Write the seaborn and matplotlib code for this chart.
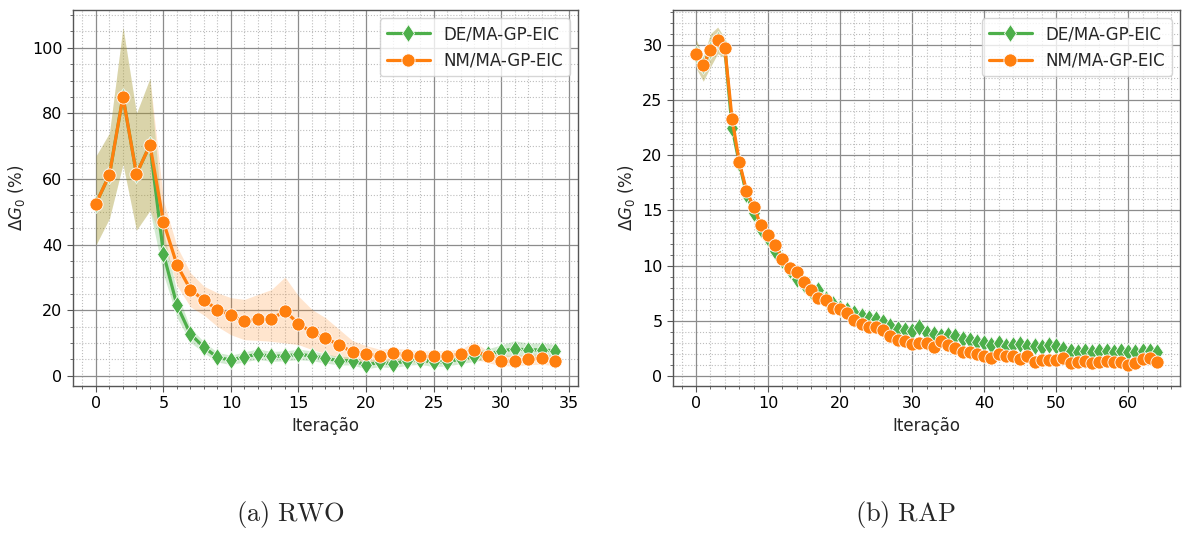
import numpy as np
import pandas as pd
import matplotlib
matplotlib.use("Agg")
import matplotlib.pyplot as plt
import seaborn as sns

# ---------------- data: RWO ----------------
rwo_iter = list(range(35))
rwo_nm = [52.5, 61.3, 85.1, 61.5, 70.4, 46.9, 33.8, 26.3, 23.0, 20.2, 18.4, 16.7,
          17.2, 17.4, 19.7, 15.9, 13.2, 11.4, 9.5, 7.2, 6.6, 6.1, 6.9, 6.4, 5.9,
          5.9, 6.1, 6.6, 7.9, 5.9, 4.6, 4.4, 5.1, 5.3, 4.6]
rwo_nm_lo = [39.9, 48.0, 64.5, 44.4, 50.4, 40.5, 27.5, 21.0, 18.5, 15.0, 12.5, 11.0,
             10.8, 10.5, 10.0, 9.5, 8.0, 6.8, 5.5, 4.5, 4.2, 4.0, 4.3, 4.2, 4.0,
             4.0, 4.1, 4.5, 5.2, 4.0, 3.1, 3.0, 3.4, 3.5, 3.1]
rwo_nm_hi = [67.0, 74.0, 106.3, 80.0, 90.7, 53.5, 39.4, 31.4, 27.3, 25.3, 23.8, 23.3,
             24.8, 26.3, 30.1, 24.3, 20.2, 17.7, 14.2, 10.7, 9.2, 8.1, 8.4, 8.1, 7.6,
             7.6, 7.8, 8.0, 10.4, 7.6, 6.4, 6.2, 6.6, 6.8, 6.2]
rwo_de = [52.5, 61.3, 85.1, 61.5, 70.4, 37.2, 21.5, 12.7, 8.7, 5.6, 4.8, 5.8,
          6.6, 5.9, 6.1, 6.5, 6.1, 5.3, 4.6, 4.6, 3.3, 4.1, 3.6, 4.6, 4.9,
          4.1, 4.3, 5.1, 5.9, 6.6, 7.5, 8.2, 7.9, 7.9, 7.6]
rwo_de_lo = [39.9, 48.0, 64.5, 44.4, 50.4, 31.0, 17.8, 10.2, 7.0, 4.2, 3.4, 4.3,
             5.0, 4.4, 4.6, 4.9, 4.6, 3.9, 3.3, 3.3, 2.1, 2.8, 2.4, 3.2, 3.5,
             2.8, 3.0, 3.7, 4.4, 5.0, 5.6, 6.1, 5.9, 5.9, 5.6]
rwo_de_hi = [67.0, 74.0, 106.3, 80.0, 90.7, 44.0, 25.4, 14.5, 10.4, 7.1, 6.3, 7.3,
             8.2, 7.4, 7.6, 8.1, 7.6, 6.7, 5.9, 5.9, 4.6, 5.4, 4.9, 6.0, 6.3,
             5.4, 5.6, 6.5, 7.4, 8.2, 9.4, 10.7, 10.0, 10.0, 9.6]

# ---------------- data: RAP ----------------
rap_iter = list(range(65))
rap_nm = [29.2, 28.2, 29.5, 30.4, 29.7, 23.3, 19.4, 16.8, 15.3, 13.7, 12.8, 11.9,
          10.6, 9.8, 9.4, 8.5, 7.8, 7.1, 6.9, 6.2, 6.05, 5.75, 5.1, 4.7, 4.4,
          4.45, 4.2, 3.65, 3.3, 3.2, 2.95, 3.0, 3.0, 2.6, 3.2, 2.85, 2.5, 2.15,
          2.15, 2.0, 1.85, 1.6, 2.0, 1.8, 1.85, 1.55, 1.85, 1.3, 1.45, 1.5, 1.5,
          1.6, 1.2, 1.3, 1.4, 1.15, 1.3, 1.4, 1.25, 1.3, 1.0, 1.15, 1.55, 1.6, 1.25]
rap_de = [29.2, 28.2, 29.5, 30.4, 29.7, 22.5, 19.3, 16.5, 14.8, 13.3, 12.5, 11.3,
          10.5, 9.6, 8.8, 8.3, 7.7, 7.8, 6.95, 6.5, 6.2, 6.0, 5.75, 5.4, 5.3,
          5.15, 4.9, 4.5, 4.25, 4.2, 4.1, 4.45, 3.9, 3.8, 3.6, 3.7, 3.6, 3.35,
          3.3, 3.1, 3.0, 2.85, 3.0, 2.75, 2.8, 2.9, 2.7, 2.7, 2.6, 2.8, 2.7,
          2.45, 2.3, 2.2, 2.3, 2.15, 2.3, 2.3, 2.2, 2.25, 2.15, 2.2, 2.3, 2.25, 2.15]
rap_band_lo_start = [27.9, 26.7, 28.0, 29.2, 28.8]
rap_band_hi_start = [30.5, 28.9, 31.0, 31.6, 30.6]
rap_spread = 0.35

series_labels = ["DE/MA-GP-EIC", "NM/MA-GP-EIC"]
captions = [r"$\mathrm{(a)\ RWO}$", r"$\mathrm{(b)\ RAP}$"]
xlabel = "Iteração"
ylabel = r"$\Delta G_0$ (%)"

GREEN = "#4daf4a"
ORANGE = "#ff7f0e"

sns.set_style("white")
plt.rcParams["font.family"] = ["DejaVu Sans"]

fig = plt.figure(figsize=(11.93, 5.34), dpi=100)
ax1 = fig.add_axes([73 / 1193, 1 - 386 / 534, (578 - 73) / 1193, (386 - 10) / 534])
ax2 = fig.add_axes([673 / 1193, 1 - 386 / 534, (1180 - 673) / 1193, (386 - 10) / 534])


def rap_bands(vals):
    lo = list(rap_band_lo_start) + [v - rap_spread for v in vals[5:]]
    hi = list(rap_band_hi_start) + [v + rap_spread for v in vals[5:]]
    return lo, hi


rap_nm_lo, rap_nm_hi = rap_bands(rap_nm)
rap_de_lo, rap_de_hi = rap_bands(rap_de)

panels = [
    (ax1, rwo_iter, rwo_de, rwo_de_lo, rwo_de_hi, rwo_nm, rwo_nm_lo, rwo_nm_hi),
    (ax2, rap_iter, rap_de, rap_de_lo, rap_de_hi, rap_nm, rap_nm_lo, rap_nm_hi),
]

for ax, it, de, de_lo, de_hi, nm, nm_lo, nm_hi in panels:
    ax.fill_between(it, de_lo, de_hi, color=GREEN, alpha=0.25, linewidth=0, zorder=2)
    ax.fill_between(it, nm_lo, nm_hi, color=ORANGE, alpha=0.2, linewidth=0, zorder=2)
    df_de = pd.DataFrame({"it": it, "v": de})
    df_nm = pd.DataFrame({"it": it, "v": nm})
    sns.lineplot(data=df_de, x="it", y="v", ax=ax, color=GREEN, marker="d",
                 markersize=9.5, markeredgecolor="white", markeredgewidth=0.6,
                 linewidth=2.3, label=series_labels[0], zorder=3)
    sns.lineplot(data=df_nm, x="it", y="v", ax=ax, color=ORANGE, marker="o",
                 markersize=9.5, markeredgecolor="white", markeredgewidth=0.6,
                 linewidth=2.3, label=series_labels[1], zorder=4)
    ax.set_xlabel(xlabel, fontsize=12)
    ax.set_ylabel(ylabel, fontsize=12)
    ax.minorticks_on()
    ax.grid(which="major", color="#8c8c8c", linewidth=0.9, linestyle="-")
    ax.grid(which="minor", color="#bdbdbd", linewidth=0.8, linestyle=":")
    ax.set_axisbelow(True)
    ax.tick_params(which="both", direction="out", colors="#555555", labelcolor="black",
                   labelsize=11.5, bottom=True, left=True)
    ax.tick_params(which="major", length=4)
    ax.tick_params(which="minor", length=2.5)
    for s in ax.spines.values():
        s.set_color("#555555")
        s.set_linewidth(1.0)
    ax.legend(loc="upper right", fontsize=12, frameon=True, framealpha=0.8,
              handlelength=2.6)

ax1.set_yticks([0, 20, 40, 60, 80, 100])
ax1.set_xticks([0, 5, 10, 15, 20, 25, 30, 35])
ax2.set_xticks([0, 10, 20, 30, 40, 50, 60])
ax2.set_yticks([0, 5, 10, 15, 20, 25, 30])

fig.text(291 / 1193, 1 - 514 / 534, captions[0], ha="center", va="center",
         fontsize=19, math_fontfamily="cm")
fig.text(905 / 1193, 1 - 514 / 534, captions[1], ha="center", va="center",
         fontsize=19, math_fontfamily="cm")

fig.savefig("out.png", dpi=100)
